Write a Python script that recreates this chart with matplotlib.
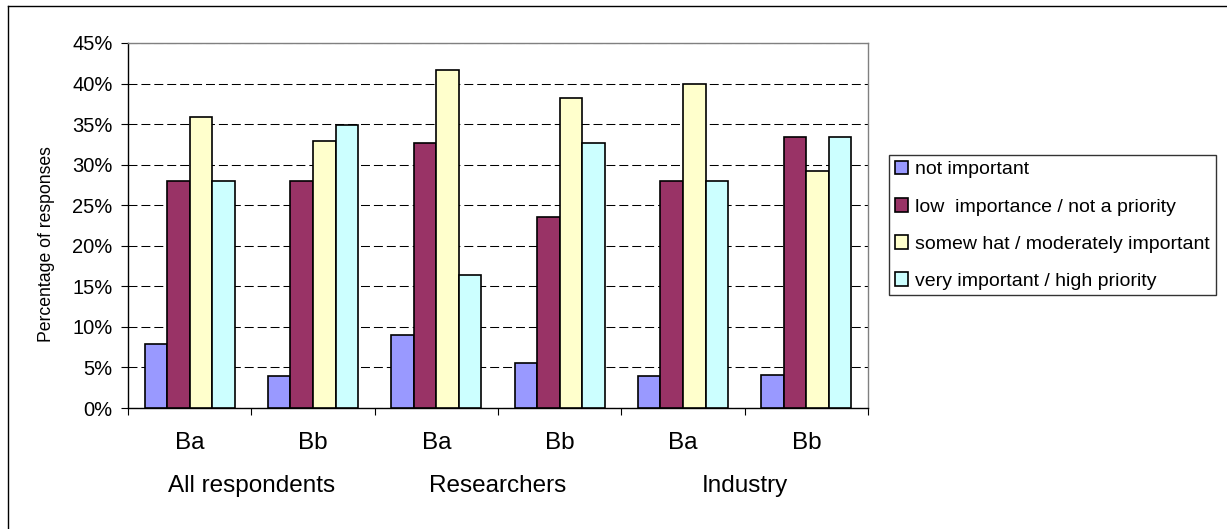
import numpy as np
import matplotlib.pyplot as plt
from matplotlib.lines import Line2D
from matplotlib.ticker import FuncFormatter, MultipleLocator

plt.rcParams['font.family'] = ['Liberation Sans', 'DejaVu Sans']

# data
sub_labels = ['Ba', 'Bb', 'Ba', 'Bb', 'Ba', 'Bb']
groups = ['All respondents', 'Researchers', 'Industry']
series = ['not important',
          'low  importance / not a priority',
          'somew hat / moderately important',
          'very important / high priority']
not_important = [7.9, 3.9, 9.0, 5.5, 3.9, 4.1]
low_importance = [28.0, 28.0, 32.7, 23.6, 28.0, 33.4]
moderately = [35.9, 32.9, 41.7, 38.2, 39.9, 29.2]
very_important = [28.0, 34.9, 16.4, 32.7, 28.0, 33.4]
colors = ['#9999FF', '#993366', '#FFFFCC', '#CCFFFF']

values = [not_important, low_importance, moderately, very_important]

fig = plt.figure(figsize=(12.27, 5.29), dpi=100)
ax = fig.add_axes([128/1227, 1-408/529, 740/1227, 365/529])

n = len(sub_labels)
centers = np.arange(n) + 0.5
bw = 0.183
for k, (vals, col, lab) in enumerate(zip(values, colors, series)):
    xs = centers - 2*bw + (k + 0.5)*bw
    ax.bar(xs, vals, width=bw, color=col, edgecolor='black', linewidth=1.2,
           label=lab, zorder=3)

ax.set_xlim(0, n)
ax.set_ylim(0, 45)
ax.yaxis.set_major_locator(MultipleLocator(5))
ax.yaxis.set_major_formatter(FuncFormatter(lambda v, p: '%d%%' % v))
ax.grid(axis='y', color='black', linestyle=(0, (8.6, 3.8)), linewidth=0.75, zorder=1)

# ticks at category boundaries, labels at centres
ax.set_xticks(np.arange(n + 1))
ax.set_xticklabels([])
ax.set_xticks(centers, minor=True)
ax.set_xticklabels(sub_labels, minor=True, fontsize=17.5)
ax.tick_params(axis='x', which='major', direction='out', length=5, width=0.8)
ax.tick_params(axis='x', which='minor', length=0, pad=17)
ax.tick_params(axis='y', direction='out', length=5, width=0.8, labelsize=14.5, pad=6)

for i, g in enumerate(groups):
    ax.text(2*i + 1, -0.214, g, transform=ax.get_xaxis_transform(),
            ha='center', va='center', fontsize=17.5)

ax.set_ylabel('Percentage of responses', fontsize=12.7)
ax.yaxis.set_label_coords(-0.099, 0.449)

for s in ['left', 'bottom']:
    ax.spines[s].set_color('black')
    ax.spines[s].set_linewidth(1.0)
for s in ['top', 'right']:
    ax.spines[s].set_color('#808080')
    ax.spines[s].set_linewidth(1.0)

leg = fig.legend(loc='upper left', bbox_to_anchor=(889/1227, 1-155/529),
                 fontsize=14, frameon=True, fancybox=False, shadow=False,
                 borderaxespad=0, handlelength=0.7, handleheight=0.7,
                 handletextpad=0.35, labelspacing=1.0, borderpad=0.3)
leg.get_frame().set_edgecolor('black')
leg.get_frame().set_linewidth(1.0)

# chart area border (top and left visible)
fig.add_artist(Line2D([8/1227, 1], [1-6/529, 1-6/529], color='black', lw=1.0))
fig.add_artist(Line2D([8/1227, 8/1227], [0, 1-6/529], color='black', lw=1.0))

fig.savefig('out.png', dpi=100)
